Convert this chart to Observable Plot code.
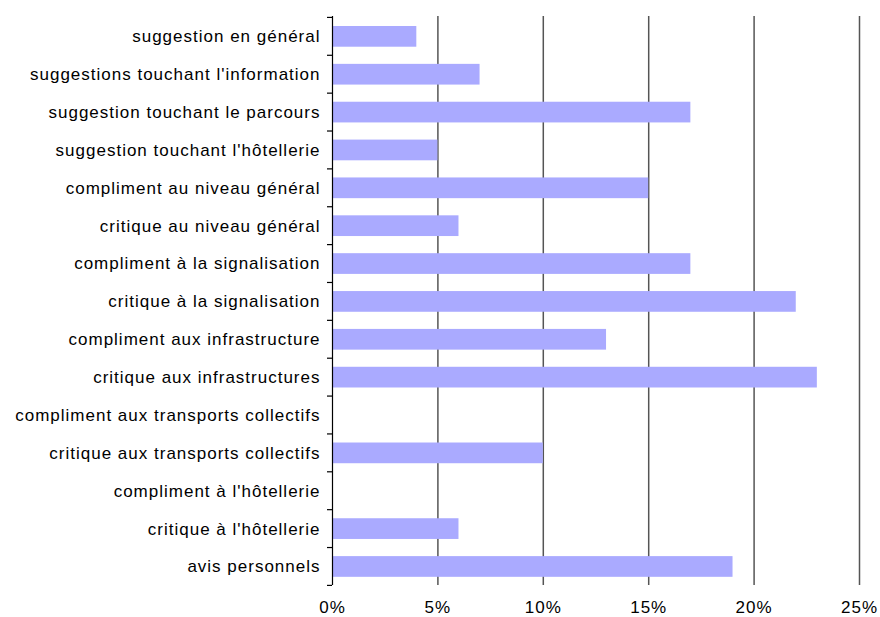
<!DOCTYPE html>
<html>
<head>
<meta charset="utf-8">
<script src="https://cdn.jsdelivr.net/npm/d3@7"></script>
<script src="https://cdn.jsdelivr.net/npm/@observablehq/plot@0.6"></script>
<style>
  html, body { margin: 0; padding: 0; background: #fff; }
  #chart svg { display: block; }
  #chart svg text { letter-spacing: 1px; }
</style>
</head>
<body>
<div id="chart"></div>
<script>
const categories = [
  "suggestion en général",
  "suggestions touchant l'information",
  "suggestion touchant le parcours",
  "suggestion touchant l'hôtellerie",
  "compliment au niveau général",
  "critique au niveau général",
  "compliment à la signalisation",
  "critique à la signalisation",
  "compliment aux infrastructure",
  "critique aux infrastructures",
  "compliment aux transports collectifs",
  "critique aux transports collectifs",
  "compliment à l'hôtellerie",
  "critique à l'hôtellerie",
  "avis personnels"
];
const values = [4, 7, 17, 5, 15, 6, 17, 22, 13, 23, 0, 10, 0, 6, 19];
const xTicks = [0, 5, 10, 15, 20, 25];
const gridTicks = [5, 10, 15, 20, 25];

const data = categories.map((c, i) => ({label: c, value: values[i]}));

// left axis ticks placed at band boundaries
function boundaryTicks(index, scales) {
  const y = scales.y;
  const x0 = scales.x(0);
  const step = y(categories[1]) - y(categories[0]);
  const bw = scales.scales.y.bandwidth;
  const gap = (step - bw) / 2;
  const ys = categories.map(c => y(c) - gap);
  ys.push(y(categories[categories.length - 1]) + bw + gap);
  const g = d3.create("svg:g");
  g.selectAll("line").data(ys).join("line")
    .attr("x1", x0 - 5).attr("x2", x0)
    .attr("y1", d => d).attr("y2", d => d)
    .attr("stroke", "#000").attr("stroke-width", 1.2);
  return g.node();
}

const chart = Plot.plot({
  width: 880,
  height: 617,
  marginLeft: 332,
  marginRight: 21,
  marginTop: 16,
  marginBottom: 32,
  style: {fontFamily: "'Liberation Sans', Arial, sans-serif", fontSize: "17px", color: "#000", background: "#fff"},
  x: {domain: [0, 25], label: null},
  y: {domain: categories, paddingInner: 0.453, paddingOuter: 0.24, align: 0.55, round: false, label: null},
  marks: [
    Plot.ruleX(gridTicks, {stroke: "#555", strokeWidth: 1.5}),
    Plot.barX(data, {x: "value", y: "label", fill: "#aaaaff"}),
    Plot.ruleX([0], {stroke: "#000", strokeWidth: 1.2}),
    boundaryTicks,
    Plot.axisX({ticks: xTicks, tickFormat: d => d + "%", tickSize: 0, tickPadding: 15, fontSize: 17, label: null}),
    Plot.axisY({tickSize: 0, tickPadding: 12, fontSize: 17, label: null})
  ]
});
document.getElementById("chart").appendChild(chart);
</script>
</body>
</html>
